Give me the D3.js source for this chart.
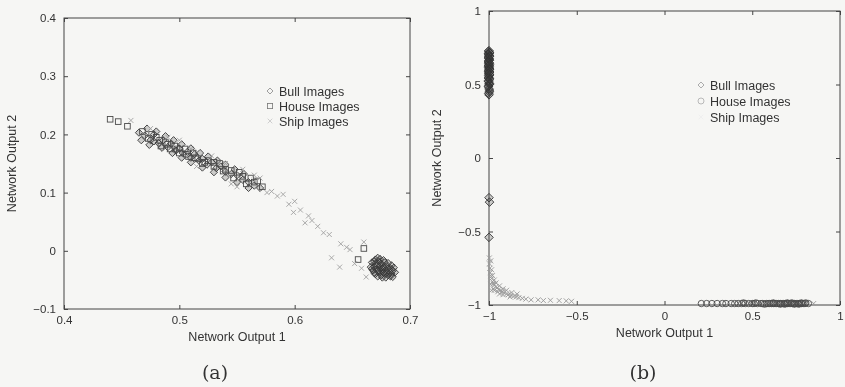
<!DOCTYPE html>
<html lang="en">
<head>
<meta charset="utf-8">
<style>
body { margin: 0; background: #f6f6f4; }
svg { display: block; }
text { font-family: "Liberation Sans", Arial, sans-serif; fill: #333; }
.caption { font-family: "DejaVu Serif", "Liberation Serif", serif; fill: #333; }
</style>
<title>Network Output scatter</title>
<script src="https://cdn.jsdelivr.net/npm/d3@7"></script>
</head>
<body>
<script>

// ---- panel (a) ----
var ticksXa = [0.4, 0.5, 0.6, 0.7];
var ticksYa = [-0.1, 0, 0.1, 0.2, 0.3, 0.4];

var bullA = [
  [0.465,0.203],[0.47,0.198],[0.475,0.19],[0.478,0.2],[0.482,0.185],[0.486,0.19],
  [0.49,0.178],[0.493,0.184],[0.497,0.172],[0.5,0.176],[0.503,0.168],[0.507,0.17],
  [0.51,0.16],[0.513,0.166],[0.517,0.155],[0.52,0.158],[0.524,0.148],[0.528,0.152],
  [0.532,0.142],[0.536,0.145],[0.54,0.136],[0.545,0.132],[0.55,0.13],[0.555,0.122],
  [0.56,0.118],[0.565,0.112],[0.57,0.108],
  [0.472,0.21],[0.48,0.205],[0.488,0.197],[0.495,0.19],[0.502,0.183],[0.51,0.176],
  [0.518,0.168],[0.525,0.162],[0.533,0.155],[0.54,0.148],[0.548,0.14],[0.556,0.132],
  [0.478,0.188],[0.485,0.177],[0.494,0.168],[0.502,0.16],[0.51,0.152],[0.52,0.143],
  [0.53,0.135],[0.54,0.126],[0.55,0.118],[0.56,0.108],[0.467,0.19],[0.474,0.182],
  [0.667,-0.02],[0.67,-0.015],[0.673,-0.018],[0.669,-0.027],[0.672,-0.025],[0.675,-0.022],
  [0.678,-0.02],[0.668,-0.034],[0.671,-0.032],[0.674,-0.03],[0.677,-0.028],[0.68,-0.026],
  [0.683,-0.03],[0.67,-0.04],[0.673,-0.037],[0.676,-0.035],[0.679,-0.033],[0.682,-0.036],
  [0.685,-0.034],[0.675,-0.042],[0.678,-0.04],[0.681,-0.042],[0.684,-0.04],[0.679,-0.046],
  [0.666,-0.028],[0.672,-0.012],
  [0.669,-0.018],[0.674,-0.014],[0.677,-0.016],[0.681,-0.021],[0.684,-0.025],[0.686,-0.029],
  [0.687,-0.037],[0.683,-0.044],[0.676,-0.046],[0.672,-0.044],[0.669,-0.038],[0.667,-0.031],
  [0.674,-0.026],[0.676,-0.031],[0.68,-0.038],[0.677,-0.038],[0.673,-0.033],[0.67,-0.022],
  [0.681,-0.03],[0.685,-0.045]
];
var houseA = [
  [0.44,0.226],[0.447,0.222],[0.455,0.214],[0.468,0.205],[0.473,0.193],[0.48,0.195],
  [0.484,0.18],[0.488,0.186],[0.492,0.175],[0.496,0.18],[0.5,0.168],[0.505,0.175],
  [0.508,0.162],[0.512,0.168],[0.516,0.158],[0.52,0.15],[0.525,0.155],[0.53,0.145],
  [0.535,0.15],[0.54,0.14],[0.547,0.125],[0.552,0.135],[0.558,0.115],[0.562,0.125],
  [0.568,0.12],[0.572,0.11],[0.655,-0.015],[0.66,0.004],
  [0.476,0.2],[0.483,0.19],[0.49,0.183],[0.498,0.175],[0.506,0.166],[0.514,0.16],
  [0.522,0.152],[0.53,0.152],[0.538,0.137],[0.545,0.138],[0.555,0.128],[0.565,0.118]
];
var shipA = [
  [0.458,0.224],[0.475,0.21],[0.49,0.195],[0.5,0.19],[0.51,0.175],[0.515,0.145],
  [0.528,0.163],[0.54,0.15],[0.545,0.115],[0.555,0.14],[0.565,0.13],[0.576,0.1],
  [0.58,0.102],[0.585,0.094],[0.59,0.097],[0.595,0.08],[0.599,0.066],[0.605,0.07],
  [0.609,0.048],[0.615,0.052],[0.62,0.042],[0.625,0.031],[0.63,0.028],[0.632,-0.012],
  [0.639,-0.028],[0.64,0.012],[0.645,0.006],[0.648,0.002],[0.652,-0.022],[0.658,-0.03],
  [0.662,-0.045],[0.66,0.015],[0.55,0.11],[0.57,0.125],[0.6,0.085],[0.612,0.06]
];

// ---- panel (b) ----
var ticksXb = [-1, -0.5, 0, 0.5, 1];
var ticksYb = [-1, -0.5, 0, 0.5, 1];

var bullB = [
  [-1,0.73],[-0.998,0.72],[-1.002,0.71],[-1,0.7],[-0.998,0.69],[-1.002,0.68],
  [-1,0.675],[-0.998,0.665],[-1.002,0.66],[-1,0.65],[-0.998,0.645],[-1.002,0.64],
  [-1,0.63],[-0.998,0.62],[-1.002,0.615],[-1,0.61],[-0.998,0.6],[-1.002,0.59],
  [-1,0.58],[-0.998,0.57],[-1.002,0.56],[-1,0.55],[-0.998,0.54],[-1.002,0.52],
  [-1,0.51],[-0.998,0.5],[-1.002,0.49],[-1,0.47],[-0.998,0.45],[-1,0.43],
  [-1.004,0.725],[-0.996,0.715],[-1.004,0.705],[-0.996,0.695],[-1.004,0.685],[-0.996,0.67],
  [-1.004,0.655],[-0.996,0.635],[-1.004,0.625],[-0.996,0.605],[-1.004,0.595],[-0.996,0.585],
  [-1.004,0.575],[-0.996,0.565],[-1.004,0.545],[-0.996,0.535],[-1.004,0.525],[-0.996,0.505],
  [-1.004,0.485],[-0.996,0.46],[-1.002,0.44],
  [-1,-0.27],[-0.997,-0.3],[-1,-0.54]
];
var houseB = [
  [0.21,-0.99],[0.24,-0.99],[0.27,-0.99],[0.3,-0.99],[0.33,-0.99],[0.35,-0.99],
  [0.38,-0.99],[0.4,-0.99],[0.42,-0.99],[0.44,-0.99],[0.46,-0.99],[0.48,-0.99],
  [0.5,-0.99],[0.51,-0.99],[0.53,-0.99],[0.55,-0.99],[0.56,-0.99],[0.58,-0.99],
  [0.59,-0.99],[0.6,-0.99],[0.61,-0.99],[0.62,-0.99],[0.63,-0.99],[0.64,-0.99],
  [0.65,-0.99],[0.66,-0.99],[0.67,-0.99],[0.68,-0.99],[0.69,-0.99],[0.7,-0.99],
  [0.71,-0.99],[0.72,-0.99],[0.73,-0.99],[0.74,-0.99],[0.75,-0.99],[0.76,-0.99],
  [0.77,-0.99],[0.78,-0.99],[0.79,-0.99],[0.8,-0.99],[0.82,-0.99],
  [0.45,-0.986],[0.52,-0.986],[0.57,-0.994],[0.62,-0.986],[0.66,-0.994],[0.7,-0.986],
  [0.74,-0.994],[0.78,-0.986],[0.685,-0.994],[0.725,-0.986],[0.765,-0.994],[0.805,-0.986]
];
var shipB = [
  [-0.998,-0.68],[-0.997,-0.72],[-0.995,-0.75],[-0.993,-0.78],[-0.99,-0.8],[-0.985,-0.82],
  [-0.98,-0.84],[-0.975,-0.855],[-0.97,-0.865],[-0.96,-0.875],[-0.955,-0.885],[-0.945,-0.895],
  [-0.935,-0.9],[-0.925,-0.91],[-0.915,-0.915],[-0.9,-0.925],[-0.89,-0.93],[-0.875,-0.935],
  [-0.86,-0.94],[-0.845,-0.945],[-0.83,-0.95],[-0.81,-0.955],[-0.79,-0.96],[-0.76,-0.965],
  [-0.72,-0.965],[-0.69,-0.97],[-0.65,-0.968],[-0.6,-0.97],[-0.56,-0.972],[-0.53,-0.975],
  [-0.99,-0.86],[-0.975,-0.89],[-0.95,-0.91],[-0.92,-0.93],[-0.88,-0.945],[-0.985,-0.9],
  [-0.99,-0.7],[-0.985,-0.76],[-0.98,-0.8],[-0.97,-0.83],[-0.96,-0.85],[-0.94,-0.87],
  [-0.92,-0.89],[-0.9,-0.9],[-0.87,-0.915],[-0.84,-0.925],[-0.97,-0.9],[-0.94,-0.925],
  [0.85,-0.99]
];

var seriesNames = ["Bull Images", "House Images", "Ship Images"];

var width = 845, height = 387;

var svg = d3.select("body").append("svg")
  .attr("width", width)
  .attr("height", height);

svg.append("defs").append("filter")
  .attr("id", "scan")
  .append("feGaussianBlur")
  .attr("stdDeviation", 0.45);

var root = svg.append("g").attr("filter", "url(#scan)");

var markers = {
  diamond: function(g, s) {
    g.append("path").attr("d", "M0," + (-s) + "L" + s + ",0L0," + s + "L" + (-s) + ",0Z");
  },
  square: function(g, s) {
    g.append("rect").attr("x", -s).attr("y", -s).attr("width", 2 * s).attr("height", 2 * s);
  },
  circle: function(g, s) {
    g.append("circle").attr("r", s);
  },
  cross: function(g, s) {
    g.append("path").attr("d", "M" + (-s) + "," + (-s) + "L" + s + "," + s + "M" + (-s) + "," + s + "L" + s + "," + (-s));
  }
};

function drawPanel(p) {
  var x = d3.scaleLinear().domain(p.xDomain).range(p.xRange);
  var y = d3.scaleLinear().domain(p.yDomain).range(p.yRange);
  var g = root.append("g");

  // frame with inward ticks (MATLAB style)
  g.append("rect")
    .attr("x", p.xRange[0]).attr("y", p.yRange[1])
    .attr("width", p.xRange[1] - p.xRange[0])
    .attr("height", p.yRange[0] - p.yRange[1])
    .attr("fill", "none").attr("stroke", "#444").attr("stroke-width", 1);

  var xb = g.append("g").attr("transform", "translate(0," + p.yRange[0] + ")")
    .call(d3.axisBottom(x).tickValues(p.xTicks).tickSizeInner(-4).tickSizeOuter(0)
      .tickFormat(function(d) { return d3.format("")(+d.toFixed(2)); }));
  xb.selectAll("text").attr("dy", null).attr("y", 15);
  var xt = g.append("g").attr("transform", "translate(0," + p.yRange[1] + ")")
    .call(d3.axisTop(x).tickValues(p.xTicks).tickSizeInner(-4).tickSizeOuter(0).tickFormat(""));
  var yl = g.append("g").attr("transform", "translate(" + p.xRange[0] + ",0)")
    .call(d3.axisLeft(y).tickValues(p.yTicks).tickSizeInner(-4).tickSizeOuter(0)
      .tickFormat(function(d) { return d3.format("")(+d.toFixed(2)); }));
  yl.selectAll("text").attr("x", -8);
  var yr = g.append("g").attr("transform", "translate(" + p.xRange[1] + ",0)")
    .call(d3.axisRight(y).tickValues(p.yTicks).tickSizeInner(-4).tickSizeOuter(0).tickFormat(""));

  [xb, xt, yl, yr].forEach(function(a) {
    a.select(".domain").remove();
    a.selectAll("line").attr("stroke", "#444");
    a.selectAll("text").attr("font-size", 11.5).attr("fill", "#333")
      .attr("font-family", "Liberation Sans, Arial, sans-serif");
  });

  // points
  p.series.forEach(function(s) {
    g.append("g").selectAll("g")
      .data(s.data)
      .enter().append("g")
      .attr("transform", function(d) { return "translate(" + x(d[0]) + "," + y(d[1]) + ")"; })
      .attr("fill", s.fill).attr("stroke", s.color).attr("stroke-width", s.width)
      .each(function() { markers[s.shape](d3.select(this), s.size); });
  });

  // legend
  p.series.forEach(function(s, i) {
    var ly = p.legend[1] + i * p.legendStep;
    var m = g.append("g").attr("transform", "translate(" + p.legend[0] + "," + ly + ")")
      .attr("fill", "none").attr("stroke", s.legendColor).attr("stroke-width", 0.8);
    markers[s.shape](m, s.legendSize);
    g.append("text").attr("x", p.legend[0] + 9).attr("y", ly + 4.5)
      .attr("font-size", 12.5).text(seriesNames[i]);
  });

  // axis titles
  g.append("text")
    .attr("x", (p.xRange[0] + p.xRange[1]) / 2).attr("y", p.xTitleY)
    .attr("text-anchor", "middle").attr("font-size", 12.5)
    .text("Network Output 1");
  g.append("text")
    .attr("transform", "translate(" + p.yTitleX + "," + (p.yRange[0] + p.yRange[1]) / 2 + ") rotate(-90)")
    .attr("text-anchor", "middle").attr("font-size", 12.5)
    .text("Network Output 2");

  g.append("text").attr("class", "caption")
    .attr("x", p.caption[0]).attr("y", p.caption[1])
    .attr("text-anchor", "middle").attr("font-size", 19)
    .text(p.captionText);
}

drawPanel({
  xDomain: [0.4, 0.7], xRange: [64, 410],
  yDomain: [-0.1, 0.4], yRange: [309, 18],
  xTicks: ticksXa, yTicks: ticksYa,
  series: [
    { data: bullA, shape: "diamond", size: 3.6, legendSize: 3, color: "#383838", fill: "rgba(60,60,60,0.22)", legendColor: "#888", width: 0.9 },
    { data: houseA, shape: "square", size: 2.8, legendSize: 2.6, color: "#4a4a4a", fill: "none", legendColor: "#777", width: 0.9 },
    { data: shipA, shape: "cross", size: 2.5, legendSize: 2.3, color: "#a0a0a0", fill: "none", legendColor: "#c4c4c4", width: 0.9 }
  ],
  legend: [270, 91], legendStep: 15,
  xTitleY: 341, yTitleX: 16,
  caption: [215, 379], captionText: "(a)"
});

drawPanel({
  xDomain: [-1, 1], xRange: [489, 840],
  yDomain: [-1, 1], yRange: [305, 11],
  xTicks: ticksXb, yTicks: ticksYb,
  series: [
    { data: bullB, shape: "diamond", size: 4.3, legendSize: 3, color: "#333", fill: "rgba(60,60,60,0.22)", legendColor: "#999", width: 0.9 },
    { data: houseB, shape: "circle", size: 3.2, legendSize: 3, color: "#4a4a4a", fill: "none", legendColor: "#aaa", width: 0.9 },
    { data: shipB, shape: "cross", size: 2.5, legendSize: 2.3, color: "#999", fill: "none", legendColor: "#eee", width: 0.9 }
  ],
  legend: [701, 85], legendStep: 16,
  xTitleY: 337, yTitleX: 441,
  caption: [643, 379], captionText: "(b)"
});

</script>
</body>
</html>
